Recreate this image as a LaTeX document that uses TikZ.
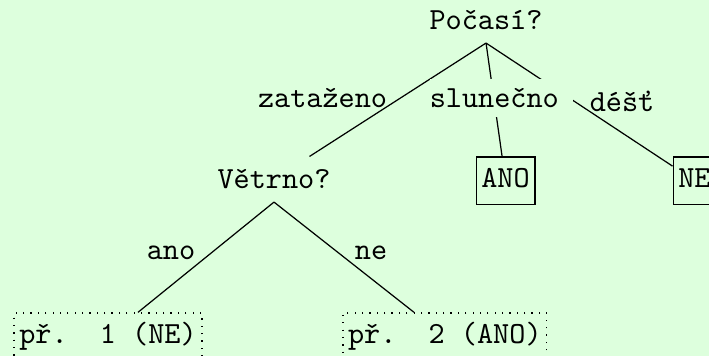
\documentclass[tikz,border=0pt]{standalone}
\usepackage{tikz}
\definecolor{bgmint}{RGB}{221,255,221}

\begin{document}
\begin{tikzpicture}[
  qnode/.style={font=\ttfamily, inner sep=4pt, anchor=base},
  elabel/.style={font=\ttfamily, inner sep=4pt, anchor=base},
  answer/.style={draw, font=\ttfamily, inner sep=1.7pt, text height=8.4pt, text depth=3.6pt, anchor=base},
  example/.style={answer, dotted}
]

  % BACKGROUND
  \fill[bgmint] (0,0) rectangle (8.112,4.073);
  \useasboundingbox (0,0) rectangle (8.112,4.073);
  \clip (0,0) rectangle (8.112,4.073);

  % Decision nodes
  \node[qnode] (weather) at (5.561, 3.730) {Počasí?};
  \node[qnode] (windy) at (3.135, 1.911) {Větrno?};

  % Leaves
  \node[answer] (yes) at (5.784, 1.922) {ANO};
  \node[answer] (no) at (7.946, 1.922) {NE};
  \node[example] (ex1) at (1.236, 0.137) {př.\ \ 1 (NE)};
  \node[example] (ex2) at (5.090, 0.137) {př.\ \ 2 (ANO)};

  % Branches
  \draw (weather.south) -- (windy);
  \draw (weather.south) -- (yes);
  \draw (weather.south) -- (no);
  \draw (windy.south) -- (ex1);
  \draw (windy.south) -- (ex2);

  % Branch labels
  \node[elabel] (cloudy) at (3.690, 2.838) {zataženo};
  \node[elabel, fill=bgmint, inner xsep=0pt, inner ysep=3pt, anchor=base west] (sunny) at (4.910, 2.838) {slunečno\kern4.5pt};
  \node[elabel] (rain) at (7.117, 2.792) {déšť};
  \node[elabel] (lblyes) at (1.957, 1.098) {ano};
  \node[elabel] (lblno) at (4.245, 1.098) {ne};

\end{tikzpicture}
\end{document}
